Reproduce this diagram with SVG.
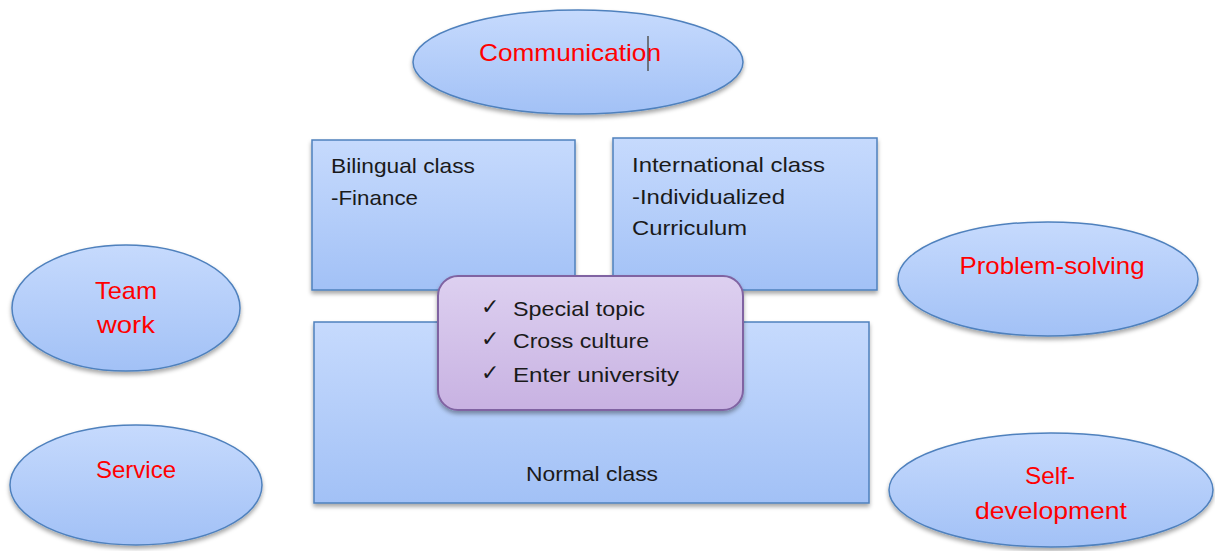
<svg xmlns="http://www.w3.org/2000/svg" width="1215" height="551" viewBox="0 0 1215 551">
<defs>
<linearGradient id="blue" x1="0" y1="0" x2="0" y2="1">
<stop offset="0" stop-color="#c6dafd"/>
<stop offset="1" stop-color="#a2c1f6"/>
</linearGradient>
<linearGradient id="purple" x1="0" y1="0" x2="0" y2="1">
<stop offset="0" stop-color="#ddd0f0"/>
<stop offset="1" stop-color="#c8b2e2"/>
</linearGradient>
<filter id="shadow" x="-10%" y="-10%" width="120%" height="130%">
<feDropShadow dx="0" dy="3" stdDeviation="2" flood-color="#000" flood-opacity="0.35"/>
</filter>
</defs>
<style>
.b{fill:url(#blue);stroke:#4f81bd;stroke-width:1.5;filter:url(#shadow)}
.p{fill:url(#purple);stroke:#8064a2;stroke-width:2;filter:url(#shadow)}
.red{font-family:"Liberation Sans",Arial,sans-serif;font-size:24px;fill:#ff0000;text-anchor:middle}
.dk{font-family:"Liberation Sans",Arial,sans-serif;font-size:21px;fill:#1a1a1a}
.ck{font-family:"DejaVu Sans",sans-serif;font-size:22px;fill:#1a1a1a}
</style>
<rect width="1215" height="551" fill="#ffffff"/>
<g id="connectors"/>
<g id="communication">
<ellipse class="b" cx="578" cy="62" rx="165" ry="52"/>
<text class="red" x="570" y="61" textLength="182" lengthAdjust="spacingAndGlyphs">Communication</text>
<line x1="648" y1="36" x2="648" y2="71" stroke="#555" stroke-width="1.5"/>
</g>
<g id="normal-class">
<rect class="b" x="314" y="322" width="555" height="181"/>
<text class="dk" x="592" y="481" text-anchor="middle" textLength="132" lengthAdjust="spacingAndGlyphs">Normal class</text>
</g>
<g id="bilingual-class">
<rect class="b" x="312" y="140" width="263" height="150"/>
<text class="dk" x="331" y="173" textLength="144" lengthAdjust="spacingAndGlyphs">Bilingual class</text>
<text class="dk" x="331" y="205" textLength="87" lengthAdjust="spacingAndGlyphs">-Finance</text>
</g>
<g id="international-class">
<rect class="b" x="613" y="138" width="264" height="152"/>
<text class="dk" x="632" y="172" textLength="193" lengthAdjust="spacingAndGlyphs">International class</text>
<text class="dk" x="632" y="204" textLength="153" lengthAdjust="spacingAndGlyphs">-Individualized</text>
<text class="dk" x="632" y="235" textLength="115" lengthAdjust="spacingAndGlyphs">Curriculum</text>
</g>
<g id="topics">
<rect class="p" x="438" y="276" width="305" height="134" rx="20"/>
<text class="ck" x="481" y="314">✓</text>
<text class="dk" x="513" y="316" textLength="132" lengthAdjust="spacingAndGlyphs">Special topic</text>
<text class="ck" x="481" y="346">✓</text>
<text class="dk" x="513" y="348" textLength="136" lengthAdjust="spacingAndGlyphs">Cross culture</text>
<text class="ck" x="481" y="380">✓</text>
<text class="dk" x="513" y="382" textLength="166" lengthAdjust="spacingAndGlyphs">Enter university</text>
</g>
<g id="team-work">
<ellipse class="b" cx="126" cy="308" rx="114" ry="63"/>
<text class="red" x="126" y="299" textLength="62" lengthAdjust="spacingAndGlyphs">Team</text>
<text class="red" x="126" y="333" textLength="58" lengthAdjust="spacingAndGlyphs">work</text>
</g>
<g id="service">
<ellipse class="b" cx="136" cy="485" rx="126" ry="60"/>
<text class="red" x="136" y="478" textLength="80" lengthAdjust="spacingAndGlyphs">Service</text>
</g>
<g id="problem-solving">
<ellipse class="b" cx="1048" cy="279" rx="150" ry="57"/>
<text class="red" x="1052" y="274" textLength="185" lengthAdjust="spacingAndGlyphs">Problem-solving</text>
</g>
<g id="self-development">
<ellipse class="b" cx="1051" cy="490" rx="162" ry="57"/>
<text class="red" x="1050" y="484" textLength="50" lengthAdjust="spacingAndGlyphs">Self-</text>
<text class="red" x="1051" y="519" textLength="152" lengthAdjust="spacingAndGlyphs">development</text>
</g>
</svg>
